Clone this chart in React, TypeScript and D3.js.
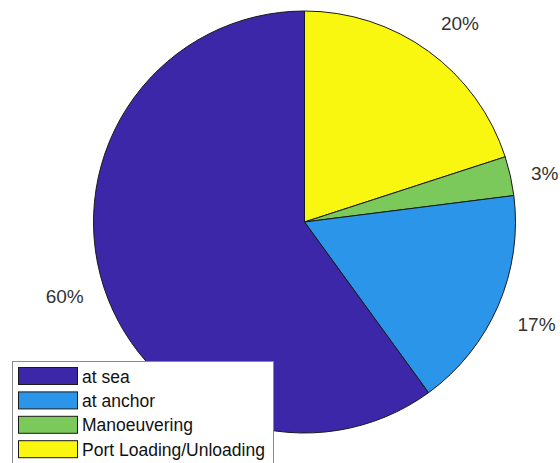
import React from "react";
import * as d3 from "d3";

// Share of time spent in each operating mode (percent)
const categories = ["at sea", "at anchor", "Manoeuvering", "Port Loading/Unloading"];
const shares = [60, 17, 3, 20];
const colors = ["#3C27A8", "#2A95E9", "#7BC85B", "#F9F60F"];

const W = 560;
const H = 463;
const cx = 304.5;
const cy = 222;
const R = 211;

export default function App() {
  // Slices run counter-clockwise from 12 o'clock in category order;
  // laying them out clockwise from the reversed list gives the same wedges.
  const idx = d3.range(categories.length).reverse();
  const pie = d3
    .pie<number>()
    .sort(null)
    .value((i) => shares[i]);
  const arcs = pie(idx);
  const arc = d3.arc<d3.PieArcDatum<number>>().innerRadius(0).outerRadius(R);

  const labelR = R * 1.1;

  return (
    <svg
      width={W}
      height={H}
      style={{ position: "absolute", left: 0, top: 0, background: "#fff" }}
      fontFamily="Liberation Sans, Arial, Helvetica, sans-serif"
    >
      <g transform={`translate(${cx},${cy})`}>
        {arcs.map((a) => (
          <path
            key={a.data}
            d={arc(a) || ""}
            fill={colors[a.data]}
            stroke="#1a1a1a"
            strokeWidth={1}
            strokeLinejoin="round"
          />
        ))}
        {arcs.map((a) => {
          const mid = (a.startAngle + a.endAngle) / 2;
          const s = Math.sin(mid);
          const c = Math.cos(mid);
          const x = labelR * s;
          const y = -labelR * c;
          let dy = 9;
          if (c > 0.35) dy = -4;
          else if (c < -0.35) dy = 17;
          return (
            <text
              key={"l" + a.data}
              x={x}
              y={y + dy}
              textAnchor={s >= 0 ? "start" : "end"}
              fontSize={19}
              fill="#333"
            >
              {`${shares[a.data]}%`}
            </text>
          );
        })}
      </g>
      <g>
        <rect x={12.5} y={361.5} width={261} height={110} fill="#fff" stroke="#8a8a8a" strokeWidth={1} />
        {categories.map((name, i) => {
          const yc = 376 + i * 24.4;
          return (
            <g key={name}>
              <rect
                x={18.5}
                y={yc - 8.5}
                width={59}
                height={17}
                fill={colors[i]}
                stroke="#1a1a1a"
                strokeWidth={1}
              />
              <text x={82} y={yc + 6.5} fontSize={17.5} fill="#111">
                {name}
              </text>
            </g>
          );
        })}
      </g>
    </svg>
  );
}
